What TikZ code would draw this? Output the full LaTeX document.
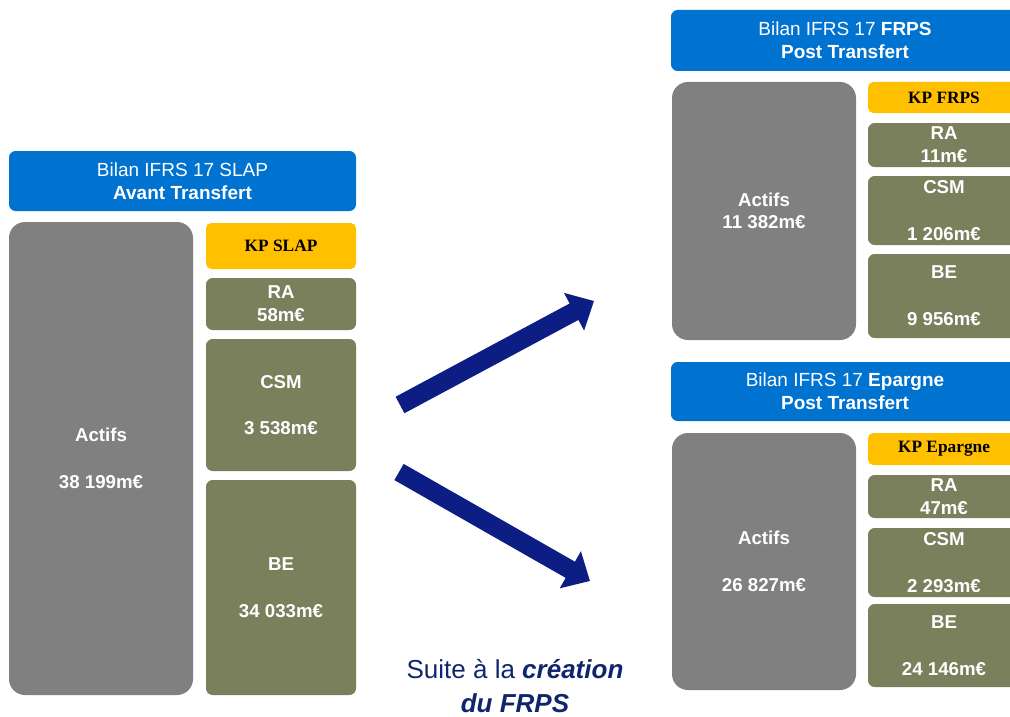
\documentclass[tikz,border=0pt]{standalone}
\usepackage{fontspec}
\setmainfont{Liberation Sans}
\newfontfamily\kpfont{Liberation Serif}
\usetikzlibrary{arrows.meta}
\definecolor{hdrblue}{RGB}{0,114,208}
\definecolor{assetgrey}{RGB}{128,128,128}
\definecolor{liabolive}{RGB}{122,127,92}
\definecolor{kpgold}{RGB}{255,192,0}
\definecolor{arrownavy}{RGB}{12,30,132}
\definecolor{notenavy}{RGB}{16,38,108}
\begin{document}
\begin{tikzpicture}[x=0.75pt,y=-0.75pt,
  pane/.style n args={2}{minimum width={#1*0.75pt}, minimum height={#2*0.75pt}},
  blk/.style={inner sep=0pt, outer sep=0pt, align=center, text=white},
  header/.style={blk, fill=hdrblue, rounded corners=5pt,
    font=\fontsize{14.25}{17.25}\selectfont},
  actifs/.style={blk, fill=assetgrey, rounded corners=12pt,
    font=\fontsize{14}{17}\selectfont\bfseries},
  liab/.style={blk, fill=liabolive, rounded corners=5pt,
    font=\fontsize{14}{17}\selectfont\bfseries},
  kp/.style={blk, fill=kpgold, text=black, rounded corners=4pt,
    font=\kpfont\fontsize{13}{15}\selectfont\bfseries},
  bigarrow/.style={arrownavy, line width=14pt,
    -{Triangle[width=31pt,length=17pt]}},
]
\useasboundingbox (0,0) rectangle (1010,717);
\clip (0,0) rectangle (1010,717);

% balance sheet before the transfer
\node[header, pane={347}{60}] (hL) at (182.5,181)
  {Bilan IFRS 17 SLAP\\\textbf{Avant Transfert}};
\node[actifs, pane={184}{473}] (aL) at (101,458.5)
  {Actifs\\[18pt]38 199m€};
\node[kp, pane={150}{46}] (kL) at (281,246) {KP SLAP};
\node[liab, pane={150}{52}] (rL) at (281,304) {RA\\58m€};
\node[liab, pane={150}{132}] (cL) at (281,405) {CSM\\[18pt]3 538m€};
\node[liab, pane={150}{215}] (bL) at (281,587.5) {BE\\[18pt]34 033m€};

% FRPS balance sheet after the transfer
\node[header, pane={348}{61}] (hF) at (845,40.5)
  {Bilan IFRS 17 \textbf{FRPS}\\\textbf{Post Transfert}};
\node[actifs, pane={184}{258}] (aF) at (764,211)
  {Actifs\\11 382m€};
\node[kp, pane={152}{31}] (kF) at (944,97.5) {KP FRPS};
\node[liab, pane={152}{44}] (rF) at (944,145) {RA\\11m€};
\node[liab, pane={152}{69}] (cF) at (944,210.5) {CSM\\[18pt]1 206m€};
\node[liab, pane={152}{84}] (bF) at (944,296) {BE\\[18pt]9 956m€};

% savings balance sheet after the transfer
\node[header, pane={348}{59}] (hE) at (845,391.5)
  {Bilan IFRS 17 \textbf{Epargne}\\\textbf{Post Transfert}};
\node[actifs, pane={184}{257}] (aE) at (764,561.5)
  {Actifs\\[18pt]26 827m€};
\node[kp, pane={152}{32}] (kE) at (944,449) {KP Epargne};
\node[liab, pane={152}{43}] (rE) at (944,496.5) {RA\\47m€};
\node[liab, pane={152}{69}] (cE) at (944,562.5) {CSM\\[18pt]2 293m€};
\node[liab, pane={152}{83}] (bE) at (944,645.5) {BE\\[18pt]24 146m€};

% split arrows
\coordinate (upS) at (400,405);
\coordinate (upE) at (594,301);
\coordinate (dnS) at (399,472);
\coordinate (dnE) at (590,581);
\draw[bigarrow] (upS) -- (upE);
\draw[bigarrow] (dnS) -- (dnE);

% caption
\node[align=center, text=notenavy, inner sep=0pt,
  font=\fontsize{19.5}{25}\selectfont] (note) at (515,686)
  {Suite à la \textbf{\textit{création}}\\\textbf{\textit{du FRPS}}};
\end{tikzpicture}
\end{document}
